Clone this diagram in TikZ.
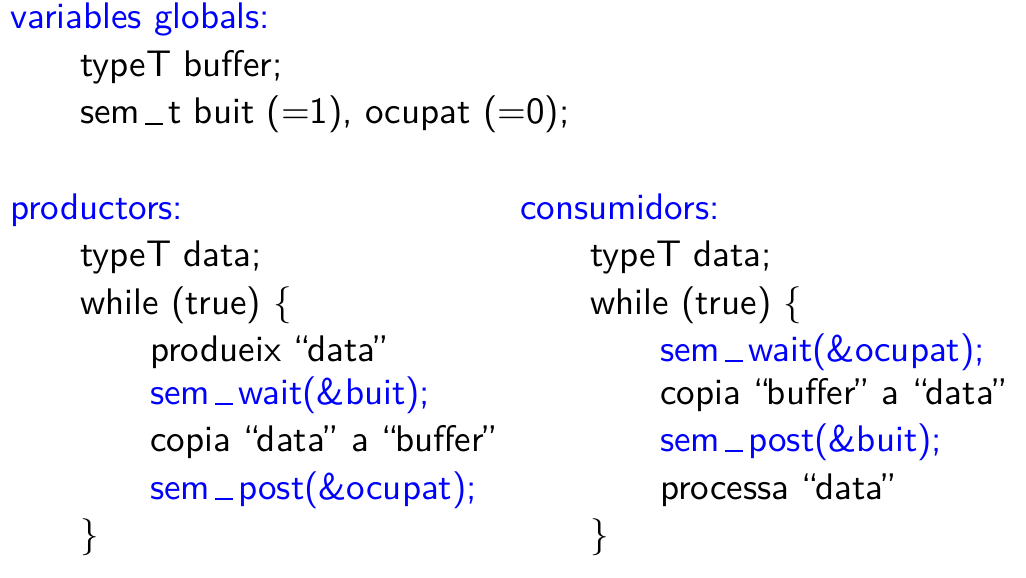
\documentclass[tikz,border=0pt]{standalone}
\usepackage{fontspec}
\setsansfont{lmsans10-regular}[Extension=.otf]
\begin{document}
\begin{tikzpicture}[x=1pt,y=-1pt,
  every node/.style={anchor=base west,inner sep=0pt,font=\fontsize{37}{44}\selectfont\sffamily},
  hdr/.style={text=blue},
  code/.style={text=black},
  sem/.style={text=blue}]
\useasboundingbox (0,0) rectangle (1026,578);
\def\us{\kern.13em\rule[-0.02em]{0.5em}{0.055em}\kern.13em}
\def\q#1{``\kern-0.1em #1\kern-0.1em''}
% globals
\node[hdr] (g) at (10,29) {variables globals:};
\node[code] (g1) at (80,76.5) {typeT buffer;};
\node[code] (g2) at (80,124) {sem\us t buit (=1), ocupat (=0);};
% productors
\node[hdr] (p) at (10,219) {productors:};
\node[code] (p1) at (80,266.5) {typeT data;};
\node[code] (p2) at (80,314) {while (true) \{};
\node[code] (p3) at (150,361.5) {produeix \q{data}};
\node[sem] (p4) at (150,404) {sem\us wait(\&buit);};
\node[code] (p5) at (150,451.5) {copia \q{data} a \q{buffer}};
\node[sem] (p6) at (150,499) {sem\us post(\&ocupat);};
\node[code] (p7) at (80,546.5) {\}};
% consumidors
\node[hdr] (c) at (520,219) {consumidors:};
\node[code] (c1) at (590,266.5) {typeT data;};
\node[code] (c2) at (590,314) {while (true) \{};
\node[sem] (c3) at (660,361.5) {sem\us wait(\&ocupat);};
\node[code] (c4) at (660,404) {copia \q{buffer} a \q{data}};
\node[sem] (c5) at (660,451.5) {sem\us post(\&buit);};
\node[code] (c6) at (660,499) {processa \q{data}};
\node[code] (c7) at (590,546.5) {\}};
\end{tikzpicture}
\end{document}
